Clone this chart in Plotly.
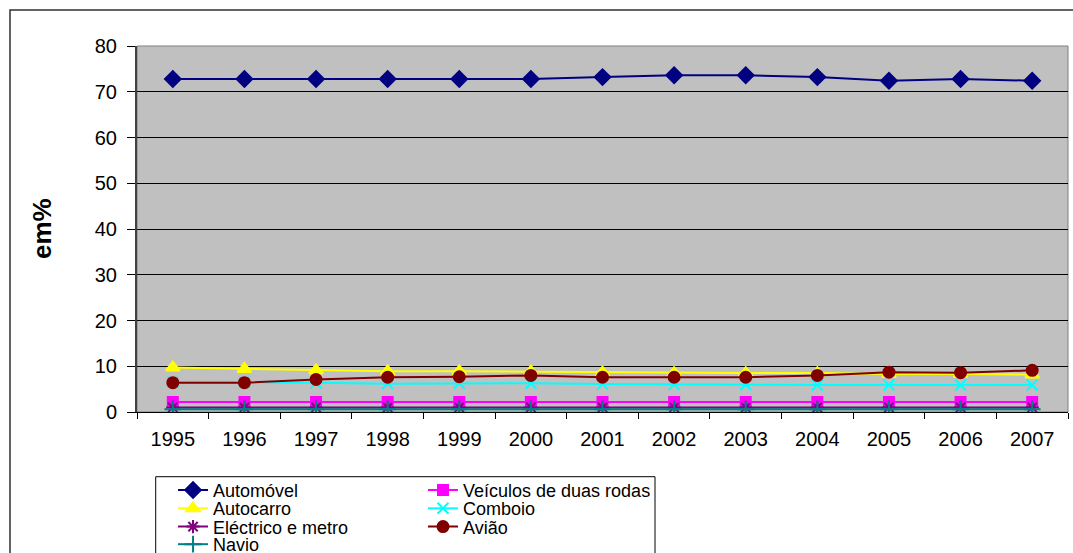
import plotly.graph_objects as go

# Transport modal shares, in %
years = ["1995", "1996", "1997", "1998", "1999", "2000", "2001",
         "2002", "2003", "2004", "2005", "2006", "2007"]

automovel = [72.8, 72.8, 72.8, 72.8, 72.8, 72.8, 73.2, 73.6, 73.6, 73.2, 72.4, 72.8, 72.4]
veiculos_duas_rodas = [2.2, 2.2, 2.2, 2.2, 2.2, 2.2, 2.2, 2.2, 2.2, 2.2, 2.2, 2.2, 2.2]
autocarro = [9.7, 9.4, 9.1, 8.9, 8.9, 8.8, 8.6, 8.5, 8.5, 8.5, 8.3, 8.3, 8.2]
comboio = [6.5, 6.5, 6.4, 6.2, 6.3, 6.3, 6.1, 6.0, 6.0, 5.9, 5.9, 5.9, 5.9]
electrico_metro = [1.0, 1.0, 1.0, 1.0, 1.0, 1.0, 1.0, 1.0, 1.0, 1.0, 1.0, 1.0, 1.0]
aviao = [6.4, 6.4, 7.1, 7.6, 7.7, 8.0, 7.6, 7.6, 7.6, 8.0, 8.7, 8.6, 9.1]
navio = [0.6, 0.6, 0.6, 0.6, 0.6, 0.6, 0.6, 0.6, 0.6, 0.6, 0.6, 0.6, 0.6]

y_ticks = [0, 10, 20, 30, 40, 50, 60, 70, 80]

FONT = "Liberation Sans, Arial, sans-serif"

# legend grid: two columns, four rows below the plot (paper coords)
LEG_COL_X = [0.0387, 0.3072]
LEG_ROW_Y = [-0.214, -0.264, -0.314, -0.362]

# name, values, colour, symbol, marker size, (column, row) in the legend grid
series = [
    ("Automóvel", automovel, "#000080", "diamond", 12, (0, 0)),
    ("Veículos de duas rodas", veiculos_duas_rodas, "#FF00FF", "square", 10, (1, 0)),
    ("Autocarro", autocarro, "#FFFF00", "triangle-up", 12, (0, 1)),
    ("Comboio", comboio, "#00FFFF", "x-thin-open", 11, (1, 1)),
    ("Eléctrico e metro", electrico_metro, "#800080", "asterisk-open", 11, (0, 2)),
    ("Avião", aviao, "#800000", "circle", 11, (1, 2)),
    ("Navio", navio, "#008080", "cross-thin-open", 12, (0, 3)),
]

fig = go.Figure()
legend_layouts = {}
for i, (name, vals, color, symbol, size, (col, row)) in enumerate(series):
    leg = "legend" if i == 0 else f"legend{i + 1}"
    fig.add_trace(go.Scatter(
        x=years, y=vals, name=name, mode="lines+markers",
        line=dict(color=color, width=2),
        marker=dict(symbol=symbol, size=size, color=color,
                    line=dict(color=color, width=2)),
        legend=leg,
    ))
    legend_layouts[leg] = dict(
        font=dict(family=FONT, size=18, color="#000000"),
        bgcolor="rgba(0,0,0,0)",
        borderwidth=0,
        orientation="v",
        xanchor="left",
        yanchor="middle",
        x=LEG_COL_X[col],
        y=LEG_ROW_Y[row],
        itemwidth=30,
    )

fig.update_layout(
    width=1073,
    height=553,
    margin=dict(l=137, r=5, t=46, b=141, pad=0, autoexpand=False),
    paper_bgcolor="#FFFFFF",
    plot_bgcolor="#C0C0C0",
    font=dict(family=FONT, size=20, color="#000000"),
    showlegend=True,
    xaxis=dict(
        type="category",
        range=[-0.5, len(years) - 0.5],
        tickson="boundaries",
        ticks="outside",
        ticklen=6,
        tickcolor="#000000",
        showgrid=False,
        showline=True,
        linecolor="#000000",
        linewidth=1,
        tickfont=dict(family=FONT, size=20),
        ticklabelstandoff=9,
        zeroline=False,
    ),
    yaxis=dict(
        range=[0, 80],
        tickvals=y_ticks,
        ticks="outside",
        ticklen=8,
        tickcolor="#000000",
        showgrid=True,
        gridcolor="#000000",
        gridwidth=1,
        showline=True,
        linecolor="#404040",
        linewidth=2,
        zeroline=False,
        tickfont=dict(family=FONT, size=20),
        ticklabelstandoff=6,
    ),
    annotations=[
        dict(
            text="<b>em%</b>", textangle=-90,
            xref="paper", yref="paper", x=-0.102, y=0.5,
            xanchor="center", yanchor="middle", showarrow=False,
            font=dict(family=FONT, size=26, color="#000000"),
        )
    ],
    shapes=[
        # plot area frame (top and right edges)
        dict(type="rect", xref="paper", yref="paper", x0=0, x1=1, y0=0, y1=1,
             line=dict(color="#808080", width=1), layer="below"),
        # outer chart border
        dict(type="rect", xref="paper", yref="paper",
             x0=-0.1364, x1=1.2, y0=-0.6, y1=1.0984,
             line=dict(color="#303030", width=1.5)),
        # legend frame
        dict(type="rect", xref="paper", yref="paper",
             x0=0.0201, x1=0.5564, y0=-0.6, y1=-0.1768,
             line=dict(color="#000000", width=1)),
    ],
    **legend_layouts,
)

fig.write_html("out.html")
